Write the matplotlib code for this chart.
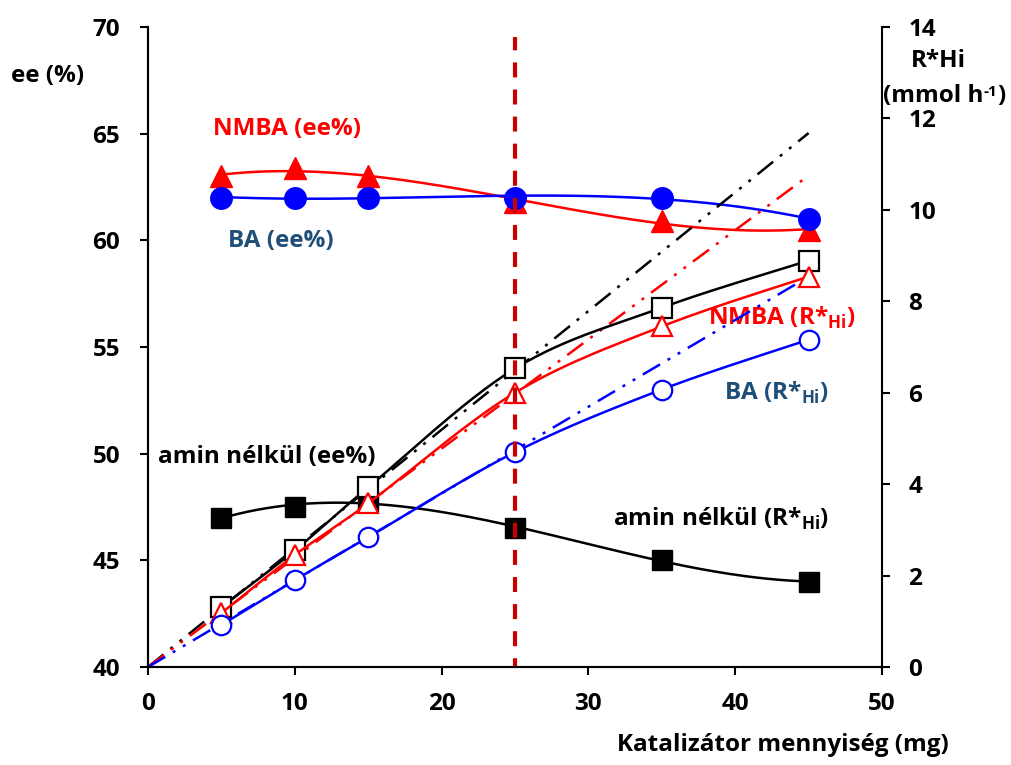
import numpy as np
import matplotlib.pyplot as plt

plt.rcParams['font.family'] = ['Open Sans', 'DejaVu Sans']
plt.rcParams['font.weight'] = 'bold'
plt.rcParams['mathtext.fontset'] = 'custom'
plt.rcParams['mathtext.rm'] = 'Open Sans:bold'
plt.rcParams['mathtext.bf'] = 'Open Sans:bold'

# catalyst amount (mg)
mg = [5, 10, 15, 25, 35, 45]

# ee (%) - left axis
ee_nmba = [63.0, 63.4, 63.0, 61.8, 60.9, 60.5]
ee_ba = [62.0, 62.0, 62.0, 62.0, 62.0, 61.0]
ee_amin = [47.0, 47.5, 47.8, 46.5, 45.0, 44.0]

# R*Hi (mmol/h) - right axis
r_amin = [1.31, 2.55, 3.93, 6.53, 7.86, 8.89]
r_nmba = [1.18, 2.45, 3.58, 6.0, 7.45, 8.54]
r_ba = [0.92, 1.9, 2.84, 4.7, 6.07, 7.16]

# linear trend lines through the origin
trend_x = [0, 45]
trend_amin = [0, 11.68]
trend_nmba = [0, 10.75]
trend_ba = [0, 8.54]


def smooth(x, y, n=30):
    # Excel style smoothed line (bezier through the points)
    pts = np.column_stack([x, y]).astype(float)
    out = [pts[0]]
    for i in range(len(pts) - 1):
        p0 = pts[i - 1] if i > 0 else pts[i]
        p1, p2 = pts[i], pts[i + 1]
        p3 = pts[i + 2] if i + 2 < len(pts) else pts[i + 1]
        c1 = p1 + (p2 - p0) / 6
        c2 = p2 - (p3 - p1) / 6
        t = np.linspace(0, 1, n)[1:, None]
        out.extend((1 - t) ** 3 * p1 + 3 * (1 - t) ** 2 * t * c1 + 3 * (1 - t) * t ** 2 * c2 + t ** 3 * p2)
    out = np.array(out)
    return out[:, 0], out[:, 1]


def poly(x, y, deg=3):
    xs = np.linspace(x[0], x[-1], 200)
    return xs, np.polyval(np.polyfit(x, y, deg), xs)


fig = plt.figure(figsize=(10.11, 7.65), dpi=100)
ax = fig.add_axes([0.1464, 0.1281, 0.7260, 0.8366])
ax2 = ax.twinx()

ms = 15.5
lw = 1.8
dd = (0, (8, 3.5, 1.2, 3.5, 1.2, 3.5))

# ee curves
ax.plot(*poly(mg, ee_nmba), color='red', lw=lw)
ax.plot(mg, ee_nmba, '^', color='red', ms=ms, mec='red')
ax.plot(*poly(mg, ee_ba), color='blue', lw=lw)
ax.plot(mg, ee_ba, 'o', color='blue', ms=ms)
ax.plot(*poly(mg, ee_amin), color='black', lw=lw)
ax.plot(mg, ee_amin, 's', color='black', ms=ms - 1.5)

# R*Hi trend lines
ax2.plot(trend_x, trend_amin, color='black', lw=lw, ls=dd)
ax2.plot(trend_x, trend_nmba, color='red', lw=lw, ls=dd)
ax2.plot(trend_x, trend_ba, color='blue', lw=lw, ls=dd)

# R*Hi curves
ax2.plot(*smooth(mg, r_amin), color='black', lw=lw)
ax2.plot(mg, r_amin, 's', mfc='white', mec='black', mew=1.6, ms=ms - 1.5)
ax2.plot(*smooth(mg, r_nmba), color='red', lw=lw)
ax2.plot(mg, r_nmba, '^', mfc='white', mec='red', mew=1.6, ms=ms - 0.5)
ax2.plot(*smooth(mg, r_ba), color='blue', lw=lw)
ax2.plot(mg, r_ba, 'o', mfc='white', mec='blue', mew=1.6, ms=ms - 1.5)

ax2.axvline(25, color='#C80000', lw=3, ls=(1.5, (3.6, 2.9)), ymax=0.984)

ax.set_xlim(0, 50)
ax.set_ylim(40, 70)
ax2.set_ylim(0, 14)
ax.set_xticks(range(0, 51, 10))
ax.set_yticks(range(40, 71, 5))
ax2.set_yticks(range(0, 15, 2))

fs = 17.5
for a in (ax, ax2):
    a.spines['top'].set_visible(False)
    for s in a.spines.values():
        s.set_linewidth(1.5)
    a.tick_params(width=1.5, length=6, labelsize=fs)
ax.tick_params(axis='x', pad=12)
ax.tick_params(axis='y', pad=14)
ax2.tick_params(axis='y', pad=13)
ax.spines['right'].set_visible(False)

blue_txt = '#1F4E79'
fig.text(0.047, 0.893, 'ee (%)', ha='center', va='baseline', fontsize=fs)
fig.text(0.928, 0.912, 'R*Hi', ha='center', va='baseline', fontsize=fs)
t1 = fig.text(0.873, 0.867, '(mmol h', ha='left', va='baseline', fontsize=fs)
t2 = ax.annotate('-1', xy=(1, 0.93), xycoords=t1, ha='left', va='top', fontsize=11)
ax.annotate(')', xy=(1, 0), xycoords=(t2, t1), ha='left', va='bottom', fontsize=fs)
ax.text(9.47, 64.94, 'NMBA (ee%)', color='red', ha='center', va='baseline', fontsize=fs)
ax.text(9.06, 59.69, 'BA (ee%)', color=blue_txt, ha='center', va='baseline', fontsize=fs)
ax.text(8.1, 49.56, 'amin nélkül (ee%)', ha='center', va='baseline', fontsize=fs)
ax.text(43.19, 56.03, r'NMBA (R*$_{\mathrm{Hi}}$)', color='red', ha='center', va='baseline', fontsize=fs)
ax.text(42.8, 52.51, r'BA (R*$_{\mathrm{Hi}}$)', color=blue_txt, ha='center', va='baseline', fontsize=fs)
ax.text(39.05, 46.61, r'amin nélkül (R*$_{\mathrm{Hi}}$)', ha='center', va='baseline', fontsize=fs)
fig.text(0.7745, 0.026, 'Katalizátor mennyiség (mg)', ha='center', va='center', fontsize=fs)

fig.savefig('out.png', dpi=100)
